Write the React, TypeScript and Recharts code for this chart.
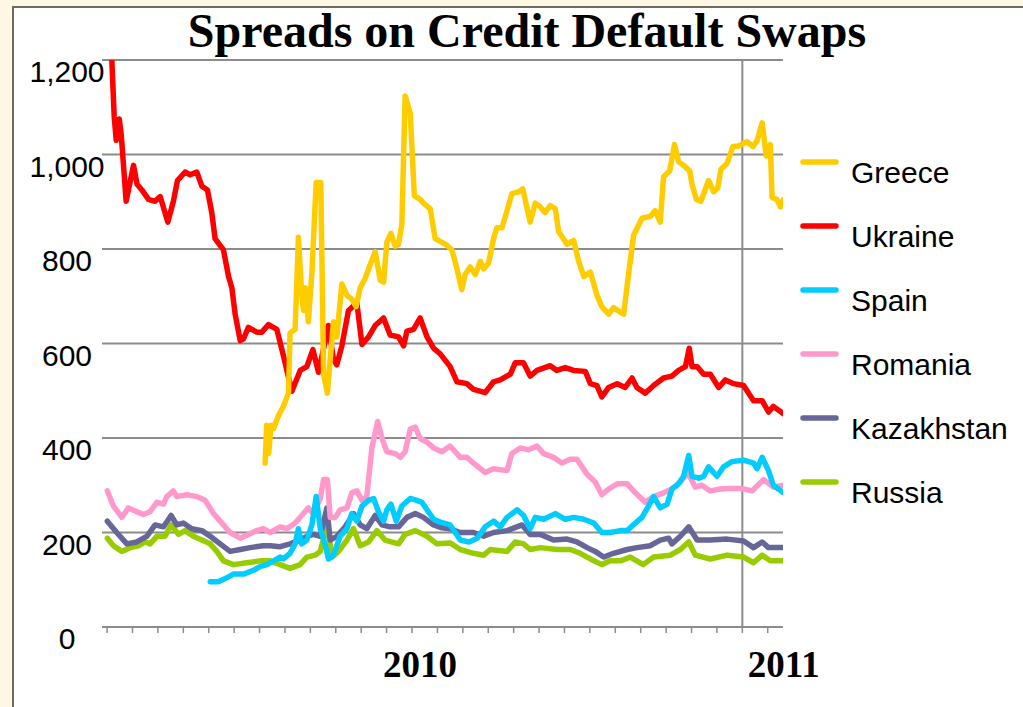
import React from 'react';
import { LineChart, Line, XAxis, YAxis, CartesianGrid, ReferenceLine, Legend } from 'recharts';

// x values are month indices counted from the first axis tick
const ukraineT = [0.18, 0.28, 0.36, 0.48, 0.56, 0.75, 1.04, 1.18, 1.37, 1.63, 1.89, 2.09, 2.39, 2.61, 2.77, 3.07, 3.27, 3.53, 3.73, 3.95, 4.12, 4.25, 4.58, 4.78, 4.91, 5.04, 5.24, 5.37, 5.56, 5.89, 6.09, 6.35, 6.68, 6.94, 7.27, 7.6, 7.86, 8.1, 8.32, 8.71, 8.91, 9.04, 9.24, 9.5, 9.83, 10.03, 10.29, 10.55, 10.88, 11.14, 11.47, 11.67, 11.8, 12.06, 12.32, 12.59, 12.85, 13.11, 13.5, 13.77, 14.16, 14.42, 14.88, 15.21, 15.47, 15.87, 16.06, 16.39, 16.65, 16.92, 17.44, 17.7, 18.03, 18.36, 18.82, 19.02, 19.28, 19.47, 19.74, 20.07, 20.39, 20.66, 20.85, 21.18, 21.51, 21.9, 22.23, 22.49, 22.76, 22.91, 23.02, 23.22, 23.48, 23.74, 24.07, 24.33, 24.66, 25.05, 25.44, 25.78, 26.03, 26.22, 26.62];
const ukraineV = [1208, 1080, 1030, 1075, 1040, 901, 977, 937, 925, 905, 901, 911, 857, 901, 945, 963, 957, 963, 933, 925, 877, 822, 798, 742, 718, 662, 606, 610, 634, 624, 624, 640, 630, 574, 499, 543, 551, 587, 539, 638, 566, 555, 595, 670, 686, 598, 614, 638, 654, 618, 614, 595, 626, 630, 654, 614, 590, 578, 551, 519, 515, 503, 496, 519, 523, 535, 559, 559, 531, 543, 553, 543, 549, 543, 541, 515, 511, 487, 507, 515, 507, 527, 507, 495, 511, 527, 531, 543, 551, 590, 551, 551, 535, 535, 507, 523, 515, 511, 479, 479, 455, 467, 451];

const greeceT = [6.22, 6.28, 6.36, 6.45, 6.55, 6.74, 6.94, 7.14, 7.2, 7.4, 7.53, 7.66, 7.73, 7.8, 7.92, 8.06, 8.23, 8.41, 8.52, 8.67, 8.78, 8.91, 9.04, 9.24, 9.44, 9.63, 9.8, 9.96, 10.16, 10.35, 10.55, 10.75, 10.88, 11.01, 11.17, 11.34, 11.47, 11.6, 11.73, 11.93, 12.09, 12.32, 12.45, 12.72, 12.91, 13.18, 13.37, 13.57, 13.77, 13.96, 14.09, 14.29, 14.49, 14.69, 14.82, 15.01, 15.21, 15.34, 15.54, 15.74, 15.93, 16.2, 16.36, 16.65, 16.85, 17.05, 17.24, 17.44, 17.64, 17.77, 18.1, 18.36, 18.56, 18.76, 19.02, 19.28, 19.47, 19.74, 19.93, 20.2, 20.33, 20.53, 20.72, 21.05, 21.38, 21.57, 21.77, 21.9, 22.14, 22.33, 22.49, 22.69, 22.93, 23.02, 23.19, 23.37, 23.67, 23.87, 24.03, 24.16, 24.4, 24.63, 24.85, 25.18, 25.42, 25.58, 25.78, 25.94, 26.1, 26.17, 26.36, 26.5, 26.62];
const greeceV = [347, 427, 367, 427, 420, 447, 467, 495, 622, 630, 825, 702, 670, 718, 646, 750, 941, 941, 535, 495, 566, 646, 614, 726, 702, 694, 678, 718, 738, 766, 794, 734, 730, 814, 833, 806, 810, 853, 1124, 1088, 913, 905, 897, 885, 822, 814, 808, 798, 758, 714, 746, 762, 746, 774, 758, 770, 822, 845, 845, 881, 917, 921, 927, 857, 897, 889, 877, 892, 885, 837, 810, 818, 774, 742, 751, 702, 678, 662, 676, 666, 662, 750, 829, 865, 869, 881, 857, 953, 965, 1021, 985, 977, 965, 937, 905, 901, 945, 921, 929, 969, 981, 1017, 1018, 1027, 1017, 1029, 1067, 997, 1021, 909, 905, 889, 905];

const spainT = [4.06, 4.38, 4.71, 4.97, 5.37, 5.76, 6.02, 6.29, 6.55, 6.81, 6.94, 7.2, 7.4, 7.53, 7.66, 7.86, 8.06, 8.23, 8.39, 8.6, 8.71, 8.91, 9.17, 9.44, 9.63, 9.83, 10.03, 10.29, 10.49, 10.68, 10.88, 11.01, 11.17, 11.38, 11.6, 11.93, 12.19, 12.39, 12.59, 12.85, 13.11, 13.5, 13.9, 14.24, 14.57, 14.88, 15.21, 15.47, 15.74, 16.14, 16.39, 16.65, 16.85, 17.18, 17.64, 18.03, 18.36, 18.76, 19.15, 19.47, 19.8, 20.2, 20.47, 20.79, 21.05, 21.31, 21.51, 21.77, 22.04, 22.23, 22.49, 22.69, 22.89, 23.02, 23.28, 23.48, 23.67, 24.0, 24.26, 24.59, 25.05, 25.44, 25.58, 25.78, 26.03, 26.22, 26.42, 26.62];
const spainV = [96, 96, 104, 112, 112, 120, 128, 132, 140, 148, 144, 156, 176, 208, 176, 184, 216, 276, 208, 172, 144, 152, 192, 208, 240, 224, 256, 268, 272, 244, 224, 248, 260, 224, 256, 272, 268, 264, 248, 228, 222, 216, 184, 180, 188, 212, 224, 212, 232, 248, 236, 208, 232, 228, 240, 228, 232, 228, 220, 200, 200, 204, 204, 220, 232, 256, 276, 252, 260, 292, 303, 319, 363, 319, 315, 319, 339, 319, 339, 350, 353, 347, 335, 359, 331, 300, 292, 284];

const romaniaT = [0.01, 0.25, 0.58, 0.84, 1.17, 1.43, 1.69, 1.96, 2.22, 2.35, 2.61, 2.74, 3.14, 3.53, 3.86, 4.19, 4.52, 4.84, 5.24, 5.56, 5.89, 6.15, 6.42, 6.81, 7.08, 7.4, 7.66, 7.92, 8.12, 8.39, 8.52, 8.67, 8.78, 8.98, 9.17, 9.44, 9.63, 9.83, 10.03, 10.22, 10.42, 10.65, 10.82, 11.01, 11.34, 11.54, 11.73, 11.93, 12.13, 12.32, 12.59, 12.85, 13.18, 13.5, 13.9, 14.16, 14.42, 14.88, 15.21, 15.74, 15.93, 16.26, 16.59, 16.92, 17.18, 17.57, 17.9, 18.23, 18.49, 18.89, 19.21, 19.47, 19.74, 20.07, 20.47, 20.79, 21.18, 21.51, 21.9, 22.23, 22.56, 22.85, 23.15, 23.41, 23.74, 24.13, 24.53, 24.99, 25.38, 25.84, 26.22, 26.62];
const romaniaV = [288, 256, 232, 252, 244, 238, 244, 264, 260, 276, 288, 276, 280, 276, 268, 240, 220, 200, 188, 196, 204, 208, 200, 212, 208, 220, 236, 252, 240, 272, 312, 312, 232, 232, 248, 252, 284, 288, 268, 276, 379, 435, 399, 371, 367, 359, 371, 419, 423, 399, 391, 379, 371, 383, 359, 359, 347, 327, 335, 331, 367, 379, 375, 383, 367, 359, 347, 355, 355, 323, 307, 280, 292, 303, 303, 284, 264, 276, 284, 292, 307, 327, 296, 300, 288, 292, 293, 293, 288, 312, 296, 300];

const kazakhstanT = [0.01, 0.38, 0.78, 1.17, 1.56, 1.89, 2.22, 2.52, 2.74, 3.0, 3.33, 3.73, 4.06, 4.45, 4.84, 5.24, 5.63, 6.15, 6.42, 6.81, 7.2, 7.6, 7.86, 8.12, 8.39, 8.65, 8.78, 9.04, 9.37, 9.7, 9.96, 10.22, 10.55, 10.82, 11.14, 11.47, 11.8, 12.13, 12.45, 12.85, 13.18, 13.5, 13.9, 14.42, 14.82, 15.21, 15.74, 16.33, 16.65, 17.05, 17.57, 18.1, 18.49, 18.89, 19.21, 19.54, 19.93, 20.47, 20.85, 21.38, 21.77, 22.1, 22.23, 22.56, 22.89, 23.22, 23.74, 24.4, 25.05, 25.44, 25.78, 26.03, 26.62];
const kazakhstanV = [224, 200, 176, 180, 192, 216, 212, 236, 216, 220, 208, 204, 192, 176, 160, 164, 168, 172, 172, 170, 176, 184, 192, 196, 192, 252, 184, 192, 212, 240, 216, 208, 236, 216, 212, 212, 232, 240, 232, 216, 210, 208, 200, 200, 192, 200, 204, 216, 196, 196, 184, 186, 180, 168, 160, 148, 156, 164, 168, 172, 184, 188, 176, 192, 212, 184, 184, 186, 182, 168, 180, 168, 168];

const russiaT = [0.01, 0.25, 0.58, 0.91, 1.23, 1.5, 1.69, 1.96, 2.28, 2.52, 2.81, 3.07, 3.4, 3.73, 4.06, 4.32, 4.58, 4.97, 5.5, 6.02, 6.42, 6.81, 7.2, 7.6, 7.86, 8.19, 8.39, 8.67, 8.85, 9.11, 9.44, 9.7, 9.96, 10.29, 10.62, 10.94, 11.47, 11.73, 12.13, 12.59, 12.98, 13.5, 13.9, 14.42, 14.82, 15.08, 15.74, 16.06, 16.39, 16.65, 17.05, 17.7, 18.23, 18.62, 19.02, 19.47, 19.8, 20.2, 20.59, 21.1, 21.51, 22.17, 22.56, 22.89, 23.15, 23.74, 24.4, 25.05, 25.44, 25.78, 26.1, 26.62];
const russiaV = [188, 172, 160, 168, 172, 180, 176, 192, 192, 216, 196, 204, 192, 184, 176, 160, 140, 132, 136, 140, 140, 132, 124, 132, 148, 152, 160, 220, 148, 160, 184, 208, 172, 180, 204, 184, 176, 196, 204, 192, 176, 178, 164, 156, 152, 164, 160, 180, 176, 164, 168, 164, 164, 156, 144, 132, 140, 140, 148, 132, 148, 152, 164, 180, 152, 144, 152, 148, 136, 152, 140, 140];

const monthTicks = [0, 1, 2, 3, 4, 5, 6, 7, 8, 9, 10, 11, 12, 13, 14, 15, 16, 17, 18, 19, 20, 21, 22, 23, 24, 25, 26];
const yearLabelTicks = [12, 26];
const yearLabels = ['2010', '2011'];
const yearLabelShift = [8, 16];
const year2011Month = 25;
const valueTicks = [0, 200, 400, 600, 800, 1000, 1200];

const legendOrder = ['Greece', 'Ukraine', 'Spain', 'Romania', 'Kazakhstan', 'Russia'];
const colors: Record<string, string> = {
  Greece: '#FFCC00',
  Ukraine: '#FF0000',
  Spain: '#00CCFF',
  Romania: '#FF99CC',
  Kazakhstan: '#666699',
  Russia: '#99CC00',
};

const toData = (t: number[], v: number[]) => t.map((x, i) => ({ t: x, v: v[i] }));

const series = [
  { name: 'Russia', data: toData(russiaT, russiaV) },
  { name: 'Kazakhstan', data: toData(kazakhstanT, kazakhstanV) },
  { name: 'Romania', data: toData(romaniaT, romaniaV) },
  { name: 'Spain', data: toData(spainT, spainV) },
  { name: 'Ukraine', data: toData(ukraineT, ukraineV) },
  { name: 'Greece', data: toData(greeceT, greeceV) },
];

const sans = '"Liberation Sans", Arial, sans-serif';
const serif = '"Liberation Serif", "Times New Roman", serif';
const grid = '#8c8c8c';

const YTick = (props: any) => {
  const { x, y, payload } = props;
  return (
    <text x={x - 35} y={y + 22} textAnchor="middle" fontFamily={sans} fontSize={30} fill="#000">
      {Number(payload.value).toLocaleString('en-US')}
    </text>
  );
};

const XTick = (props: any) => {
  const { x, y, payload } = props;
  const idx = yearLabelTicks.indexOf(payload.value);
  if (idx < 0) return <g />;
  return (
    <text x={x + yearLabelShift[idx]} y={y + 44} textAnchor="middle" fontFamily={serif} fontWeight="bold" fontSize={37} fill="#000">
      {yearLabels[idx]}
    </text>
  );
};

const LegendContent = (props: any) => {
  const payload = [...(props.payload || [])].sort(
    (a: any, b: any) => legendOrder.indexOf(a.value) - legendOrder.indexOf(b.value)
  );
  return (
    <svg width={233} height={380}>
      {payload.map((p: any, i: number) => (
        <g key={p.value} transform={`translate(0, ${22 + i * 64})`}>
          <line x1={15} x2={48} y1={0} y2={0} stroke={p.color} strokeWidth={5.5} strokeLinecap="round" />
          <text x={63} y={21} fontFamily={sans} fontSize={30} fill="#000">{p.value}</text>
        </g>
      ))}
    </svg>
  );
};

export default function App() {
  return (
    <div style={{ position: 'absolute', left: 0, top: 0, width: 1023, height: 707, background: '#FEF7E4', overflow: 'hidden' }}>
      <div style={{ position: 'absolute', left: 12, top: 6, width: 1020, height: 710, background: '#FFFFFF', borderLeft: '2px solid #6E6A60', borderTop: '2px solid #6E6A60' }} />
      <svg style={{ position: 'absolute', left: 0, top: 0 }} width={1023} height={60}>
        <text x={527} y={47} textAnchor="middle" fontFamily={serif} fontWeight="bold" fontSize={48} fill="#000">
          Spreads on Credit Default Swaps
        </text>
      </svg>
      <div style={{ position: 'absolute', left: 0, top: 0 }}>
        <LineChart width={1023} height={707} margin={{ top: 60, right: 240, bottom: 20, left: 0 }}>
          <CartesianGrid vertical={false} stroke={grid} strokeWidth={2} />
          <XAxis
            type="number"
            dataKey="t"
            domain={[-0.2, 26.6]}
            allowDataOverflow
            ticks={monthTicks}
            interval={0}
            height={60}
            tickSize={6}
            tickMargin={0}
            axisLine={{ stroke: grid, strokeWidth: 2 }}
            tickLine={{ stroke: grid, strokeWidth: 1.5 }}
            tick={<XTick />}
          />
          <YAxis
            type="number"
            domain={[0, 1200]}
            allowDataOverflow
            ticks={valueTicks}
            interval={0}
            width={102}
            axisLine={false}
            tickLine={false}
            tickSize={0}
            tickMargin={0}
            tick={<YTick />}
          />
          <ReferenceLine x={year2011Month} stroke={grid} strokeWidth={2} />
          {series.map((s) => (
            <Line
              key={s.name}
              name={s.name}
              data={s.data}
              dataKey="v"
              type="linear"
              stroke={colors[s.name]}
              strokeWidth={5.5}
              strokeLinejoin="round"
              strokeLinecap="round"
              dot={false}
              activeDot={false}
              isAnimationActive={false}
            />
          ))}
          <Legend
            layout="vertical"
            align="center"
            verticalAlign="middle"
            content={<LegendContent />}
            wrapperStyle={{ position: 'absolute', left: 788, top: 140, width: 233, height: 380 }}
          />
        </LineChart>
      </div>
    </div>
  );
}
